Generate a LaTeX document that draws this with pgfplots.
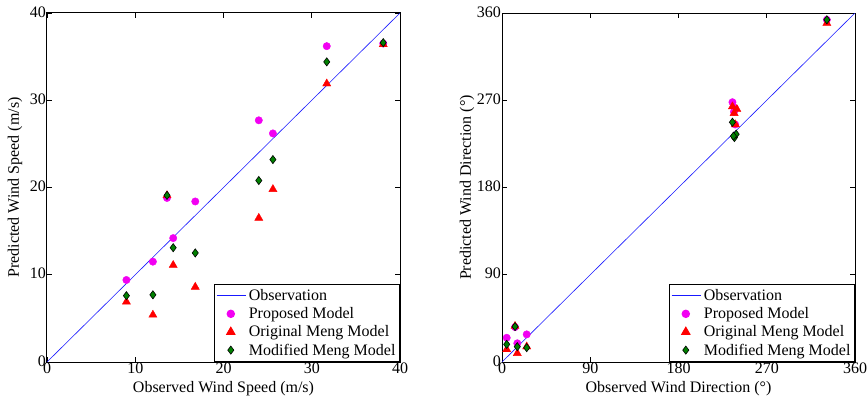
\documentclass[border=0pt]{standalone}
\usepackage{pgfplots}
\pgfplotsset{compat=1.18}
\usepackage{fontspec}
\setmainfont{Liberation Serif}
\definecolor{dgreen}{rgb}{0,0.5,0}
\definecolor{mag}{rgb}{0.95,0,0.95}
\definecolor{rred}{rgb}{1,0,0}
\definecolor{bblue}{rgb}{0.1,0.1,1}
\pgfplotsset{
  myaxis/.style={
    scale only axis, width=353pt, height=349pt,
    tick align=inside, axis line style={line width=1pt},
    major tick length=5pt,
    tick style={black, line width=0.6pt},
    font=\fontsize{16}{18}\selectfont,
    tick label style={font=\fontsize{16}{18}\selectfont, inner sep=1pt},
    /pgf/number format/assume math mode=true,
    legend style={at={(1,0)}, anchor=south east, draw=black, line width=1pt, font=\fontsize{16}{17}\selectfont, inner xsep=2pt, inner ysep=3pt, row sep=1.5pt, cells={anchor=west}},
    xlabel style={at={([yshift=-27pt]axis description cs:0.5,0)}, anchor=center},
  },
  obsl/.style={bblue, line width=0.6pt, legend image code/.code={\draw[bblue,line width=0.8pt] (0mm,0mm) -- (10.5mm,0mm);}},
  propm/.style={only marks, mark=*, mark size=3.7pt, mark options={draw=mag, fill=mag}, legend image code/.code={\draw[mark=*, mark size=3.7pt, mark options={draw=mag, fill=mag}] plot coordinates {(5mm,0mm)};}},
  origm/.style={only marks, mark=triangle*, mark size=4.7pt, mark options={draw=rred, fill=rred}, legend image code/.code={\draw[mark=triangle*, mark size=4.7pt, mark options={draw=rred, fill=rred}] plot coordinates {(5mm,0mm)};}},
  modm/.style={only marks, mark=diamond*, mark size=4.1pt, mark options={draw=black, fill=dgreen, line width=0.6pt}, legend image code/.code={\draw[mark=diamond*, mark size=4.1pt, mark options={draw=black, fill=dgreen, line width=0.6pt}] plot coordinates {(5mm,0mm)};}},
}
\begin{document}
\begin{tikzpicture}
\begin{axis}[myaxis, name=ax1,
  xmin=0, xmax=40, ymin=0, ymax=40,
  xtick={0,10,20,30,40}, ytick={0,10,20,30,40},
  xlabel={Observed Wind Speed (m/s)},
  ylabel={Predicted Wind Speed (m/s)},
  ylabel style={at={([xshift=-32pt]axis description cs:0,0.5)}, anchor=center},
  yticklabel style={yshift=1pt},
]
\addplot[obsl] coordinates {(0,0) (40,40)};
\addlegendentry{Observation}
\addplot[propm] coordinates {
(9.0,9.4) (12.0,11.5) (13.6,18.8) (14.3,14.2) (16.8,18.4) (24.0,27.7) (25.6,26.2) (31.7,36.2) (38.1,36.5)};
\addlegendentry{Proposed Model}
\addplot[origm] coordinates {
(9.0,6.9) (12.0,5.4) (13.6,19.1) (14.3,11.1) (16.8,8.6) (24.0,16.5) (25.6,19.8) (31.7,31.9) (38.1,36.4)};
\addlegendentry{Original Meng Model}
\addplot[modm] coordinates {
(9.0,7.6) (12.0,7.7) (13.6,19.1) (14.3,13.1) (16.8,12.5) (24.0,20.8) (25.6,23.2) (31.7,34.4) (38.1,36.6)};
\addlegendentry{Modified Meng Model}
\end{axis}
\begin{axis}[myaxis, name=ax2, xshift=455pt,
  xmin=0, xmax=360, ymin=0, ymax=360,
  xtick={0,90,180,270,360}, ytick={0,90,180,270,360},
  xlabel={Observed Wind Direction (°)},
  ylabel={Predicted Wind Direction (°)},
  ylabel style={at={([xshift=-35pt]axis description cs:0,0.5)}, anchor=center},
  yticklabel style={yshift=1pt},
]
\addplot[obsl] coordinates {(0,0) (360,360)};
\addlegendentry{Observation}
\addplot[propm] coordinates {
(4.8,25) (13.3,36) (15.6,19.3) (25.2,28.5) (235,268) (237.5,262) (237.8,245) (236.5,258) (331.3,353)};
\addlegendentry{Proposed Model}
\addplot[origm] coordinates {
(4.8,13) (13.3,37) (15.6,9) (25.2,15.8) (235,263.5) (239.5,260.8) (236.7,256.6) (238,245) (331.3,349.5)};
\addlegendentry{Original Meng Model}
\addplot[modm] coordinates {
(4.8,18.2) (13.3,36.5) (15.6,15.8) (25.2,14.8) (235,247.3) (237,231.5) (238.8,235) (236,233) (331.3,353)};
\addlegendentry{Modified Meng Model}
\end{axis}
\path (ax1.south west) ++(-47pt,-40pt) coordinate (bl);
\path (ax2.north east) ++(13pt,13pt) coordinate (tr);
\path (bl) (tr);
\end{tikzpicture}
\end{document}
